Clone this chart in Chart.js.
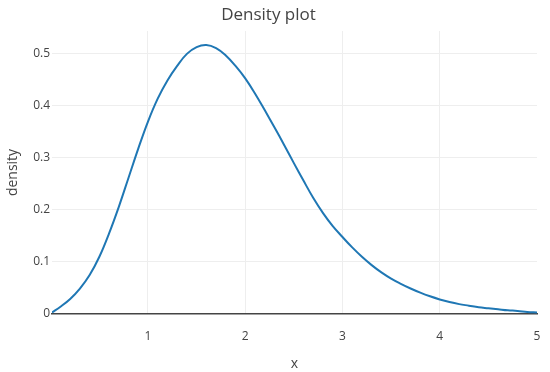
<!DOCTYPE html>
<html>
<head>
<meta charset="utf-8">
<script src="https://cdn.jsdelivr.net/npm/chart.js@4.4.1/dist/chart.umd.min.js"></script>
<style>
  html, body { margin: 0; padding: 0; background: #fff; }
  #wrap { width: 550px; height: 372px; }
</style>
</head>
<body>
<div id="wrap"><canvas id="c" width="550" height="372"></canvas></div>
<script>
const xValues = [0.013, 0.1, 0.2, 0.3, 0.4, 0.5, 0.6, 0.7, 0.8, 0.9, 1.0,
  1.1, 1.2, 1.3, 1.4, 1.5, 1.6, 1.7, 1.8, 1.9, 2.0,
  2.1, 2.2, 2.3, 2.4, 2.5, 2.6, 2.7, 2.8, 2.9, 3.0,
  3.1, 3.2, 3.3, 3.4, 3.5, 3.6, 3.7, 3.8, 3.9, 4.0,
  4.1, 4.2, 4.3, 4.4, 4.5, 4.6, 4.7, 4.8, 4.9, 5.0];
const densityValues = [0.003, 0.014, 0.029, 0.049, 0.075, 0.110, 0.155, 0.206, 0.262, 0.318, 0.370,
  0.414, 0.449, 0.477, 0.500, 0.513, 0.517, 0.511, 0.497, 0.477, 0.453,
  0.424, 0.392, 0.359, 0.325, 0.290, 0.256, 0.223, 0.194, 0.169, 0.148,
  0.128, 0.110, 0.094, 0.080, 0.068, 0.058, 0.049, 0.041, 0.034, 0.028,
  0.023, 0.019, 0.016, 0.013, 0.011, 0.009, 0.007, 0.006, 0.004, 0.003];
const xTicks = [1, 2, 3, 4, 5];
const yTicks = [0, 0.1, 0.2, 0.3, 0.4, 0.5];
const titleText = 'Density plot';
const xTitle = 'x';
const yTitle = 'density';

const points = xValues.map((x, i) => ({ x: x, y: densityValues[i] }));
const FONT = "'Open Sans', verdana, arial, sans-serif";

new Chart(document.getElementById('c'), {
  type: 'line',
  data: {
    datasets: [{
      data: points,
      borderColor: '#1f77b4',
      borderWidth: 2,
      pointRadius: 0,
      fill: false,
      tension: 0.4
    }]
  },
  options: {
    responsive: false,
    animation: false,
    devicePixelRatio: 1,
    layout: { padding: { left: 0, right: 13, top: 0, bottom: 0 } },
    plugins: {
      legend: { display: false },
      tooltip: { enabled: false },
      title: {
        display: true,
        text: titleText,
        color: '#444',
        font: { family: FONT, size: 17, weight: 'normal', lineHeight: 1.2 },
        padding: { top: 5, bottom: 5.6 }
      }
    },
    scales: {
      x: {
        type: 'linear',
        min: xValues[0],
        max: 5,
        afterFit: (s) => { s.height = 58; s.paddingLeft = 0; s.paddingRight = 0; },
        afterBuildTicks: (s) => { s.ticks = xTicks.map(v => ({ value: v })); },
        grid: {
          drawTicks: false,
          color: (ctx) => (ctx.tick && ctx.tick.value === 5) ? 'rgba(0,0,0,0)' : '#eee',
          lineWidth: 1
        },
        border: { display: true, color: '#444', width: 1.5 },
        ticks: {
          color: '#444',
          padding: 15,
          font: { family: FONT, size: 12 },
          maxRotation: 0,
          callback: (v) => String(v)
        },
        title: {
          display: true,
          text: xTitle,
          color: '#444',
          font: { family: FONT, size: 14, lineHeight: 1.2 },
          padding: { top: 5.5, bottom: 0 }
        }
      },
      y: {
        type: 'linear',
        min: 0,
        max: 0.544,
        afterFit: (s) => { s.width = 52; s.paddingTop = 0; s.paddingBottom = 0; },
        afterBuildTicks: (s) => { s.ticks = yTicks.map(v => ({ value: v })); },
        grid: {
          drawTicks: false,
          color: (ctx) => (ctx.tick && ctx.tick.value === 0) ? 'rgba(0,0,0,0)' : '#eee',
          lineWidth: 1
        },
        border: { display: false },
        ticks: {
          color: '#444',
          padding: 2,
          font: { family: FONT, size: 12 },
          callback: (v) => String(v)
        },
        title: {
          display: true,
          text: yTitle,
          color: '#444',
          font: { family: FONT, size: 14, lineHeight: 1.2 },
          padding: { top: 4.6, bottom: 0 }
        }
      }
    }
  }
});
</script>
</body>
</html>
